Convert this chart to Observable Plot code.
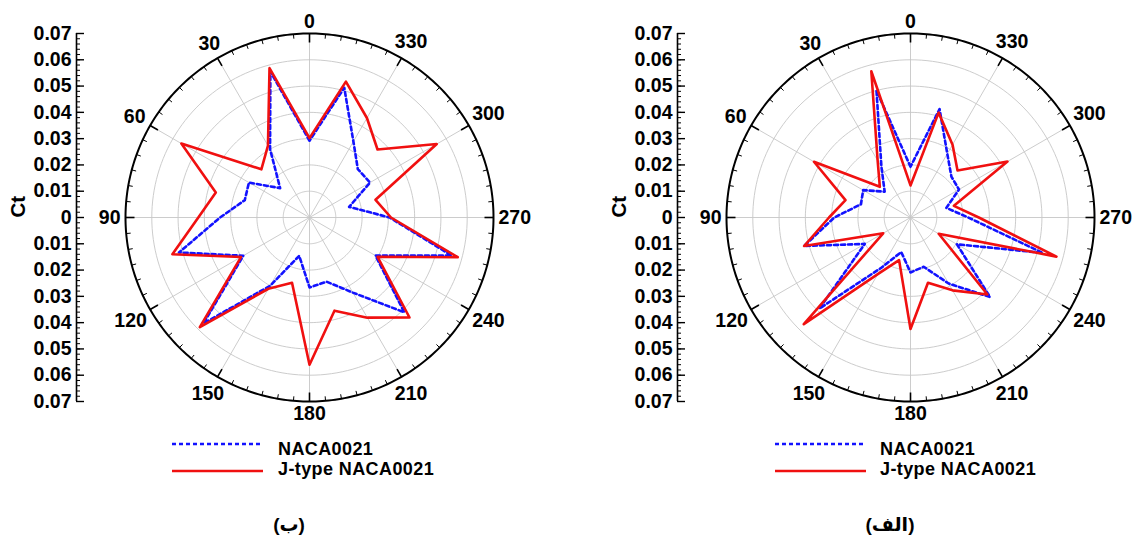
<!DOCTYPE html>
<html>
<head>
<meta charset="utf-8">
<script src="https://cdn.jsdelivr.net/npm/d3@7"></script>
<script src="https://cdn.jsdelivr.net/npm/@observablehq/plot@0.6"></script>
<style>
  body { margin: 0; background: #fff; }
  #root { position: relative; width: 1134px; height: 536px; overflow: hidden;
          font-family: 'Liberation Sans', Arial, 'DejaVu Sans', sans-serif; font-weight: bold; color: #000; }
  .panel { position: absolute; top: 0; }
  .legend-text { position: absolute; font-size: 18px; line-height: 16px; white-space: nowrap; letter-spacing: 0.4px; }
  .legend-line { position: absolute; }
  .caption { position: absolute; font-size: 19px; line-height: 22px; white-space: nowrap; transform: translateX(-50%); }
</style>
</head>
<body>
<div id="root"></div>
<script>
// ---------------- data ----------------
const angles = [0, 15, 30, 45, 60, 75, 90, 105, 120, 135, 150, 165,
                180, 195, 210, 225, 240, 255, 270, 285, 300, 315, 330, 345];
const angleTicks = [0, 30, 60, 90, 120, 150, 180, 210, 240, 270, 300, 330];
const ctTicks = [-0.07, -0.06, -0.05, -0.04, -0.03, -0.02, -0.01, 0, 0.01, 0.02, 0.03, 0.04, 0.05, 0.06, 0.07];
const ringValues = [0.01, 0.02, 0.03, 0.04, 0.05, 0.06];
const seriesNames = ["NACA0021", "J-type NACA0021"];
const panelCaptions = ["(ب)", "(الف)"];

// panel (ب)
const nacaB  = [0.0292, 0.0575, 0.0300, 0.0158, 0.0266, 0.0255, 0.0340, 0.0514,
                0.0291, 0.0570, 0.0300, 0.0151, 0.0266, 0.0253, 0.0330, 0.0510,
                0.0290, 0.0560, 0.0305, 0.0156, 0.0266, 0.0260, 0.0334, 0.0511];
const jtypeB = [0.0302, 0.0588, 0.0316, 0.0259, 0.0563, 0.0369, 0.0423, 0.0540,
                0.0301, 0.0590, 0.0313, 0.0257, 0.0560, 0.0367, 0.0440, 0.0538,
                0.0299, 0.0584, 0.0310, 0.0260, 0.0559, 0.0366, 0.0437, 0.0535];
// panel (الف)
const nacaA  = [0.0193, 0.0500, 0.0221, 0.0139, 0.0208, 0.0195, 0.0290, 0.0419,
                0.0201, 0.0490, 0.0220, 0.0136, 0.0209, 0.0194, 0.0290, 0.0428,
                0.0204, 0.0520, 0.0220, 0.0141, 0.0213, 0.0220, 0.0280, 0.0427];
const jtypeA = [0.0122, 0.0576, 0.0250, 0.0165, 0.0424, 0.0256, 0.0310, 0.0419,
                0.0120, 0.0574, 0.0249, 0.0168, 0.0424, 0.0257, 0.0320, 0.0414,
                0.0124, 0.0575, 0.0260, 0.0171, 0.0426, 0.0253, 0.0320, 0.0413];

// ---------------- layout ----------------
const W = 533, H = 430, CX = 309, AXIS_X = 76, TOP = 33, BOTTOM = 401;
const RMAX = 0.07;
const K = (BOTTOM - TOP) / (2 * RMAX);           // px per Ct unit
const XMIN = -(CX - AXIS_X) / K, XMAX = (W - CX) / K;
const FS = 19.5;
const BLUE = "#1212ff", RED = "#f01010", GRID = "#c6c6c6";

const rad = (a) => a * Math.PI / 180;
const px = (r, a) => -r * Math.sin(rad(a));
const py = (r, a) => r * Math.cos(rad(a));

function panel(naca, jtype) {
  const rows = [
    ...angles.map((a, i) => ({a, r: naca[i], s: seriesNames[0]})),
    ...angles.map((a, i) => ({a, r: jtype[i], s: seriesNames[1]}))
  ];
  const ringPts = ringValues.flatMap((r) => d3.range(0, 361, 2).map((a) => ({r, a})));
  const outerPts = d3.range(0, 361, 1).map((a) => ({r: RMAX, a}));
  const minorAng = d3.range(0, 360, 5).filter((a) => a % 30 !== 0);
  const labelR = (a) => {
    const w = String(a).length * 0.556 * FS, h = 0.716 * FS;
    const ext = Math.abs(Math.sin(rad(a))) * w / 2 + Math.abs(Math.cos(rad(a))) * h / 2;
    return RMAX + (5 + ext) / K;
  };
  const fmt = (d) => (Math.abs(d) < 1e-9 ? "0" : d3.format(".2f")(Math.abs(d)));

  return Plot.plot({
    width: W, height: H,
    marginLeft: AXIS_X, marginRight: 0, marginTop: TOP, marginBottom: H - BOTTOM,
    x: {domain: [XMIN, XMAX], axis: null},
    y: {domain: [-RMAX, RMAX]},
    style: {fontFamily: "'Liberation Sans', Arial, sans-serif", fontWeight: "bold", fontSize: FS + "px", background: "white", overflow: "visible"},
    marks: [
      // grid rings
      Plot.line(ringPts, {x: (d) => px(d.r, d.a), y: (d) => py(d.r, d.a), z: (d) => d.r, stroke: GRID, strokeWidth: 0.9}),
      // spokes
      Plot.link(angleTicks, {x1: () => 0, y1: () => 0, x2: (a) => px(RMAX, a), y2: (a) => py(RMAX, a), stroke: GRID, strokeWidth: 0.9}),
      // outer circle
      Plot.line(outerPts, {x: (d) => px(d.r, d.a), y: (d) => py(d.r, d.a), stroke: "black", strokeWidth: 2}),
      // angular ticks
      Plot.link(minorAng, {x1: (a) => px(RMAX, a), y1: (a) => py(RMAX, a), x2: (a) => px(RMAX - 4.5 / K, a), y2: (a) => py(RMAX - 4.5 / K, a), stroke: "black", strokeWidth: 1}),
      Plot.link(angleTicks, {x1: (a) => px(RMAX, a), y1: (a) => py(RMAX, a), x2: (a) => px(RMAX - 9 / K, a), y2: (a) => py(RMAX - 9 / K, a), stroke: "black", strokeWidth: 1.6}),
      // data
      Plot.line(rows.filter((d) => d.s === seriesNames[0]), {x: (d) => px(d.r, d.a), y: (d) => py(d.r, d.a), stroke: BLUE, strokeWidth: 2.6, strokeDasharray: "4,3", curve: "linear-closed"}),
      Plot.line(rows.filter((d) => d.s === seriesNames[1]), {x: (d) => px(d.r, d.a), y: (d) => py(d.r, d.a), stroke: RED, strokeWidth: 2.6, curve: "linear-closed"}),
      // angle labels
      Plot.text(angleTicks, {x: (a) => px(labelR(a), a), y: (a) => py(labelR(a), a), text: (a) => String(a), fontSize: FS, fill: "black"}),
      // Ct axis
      Plot.ruleX([XMIN], {y1: -RMAX, y2: RMAX, stroke: "black", strokeWidth: 1.6}),
      Plot.axisY(d3.range(-35, 36).map((i) => i / 500), {tickSize: -4, tickFormat: () => "", label: null, stroke: "black"}),
      Plot.axisY(ctTicks, {tickSize: -8, tickPadding: 13, tickFormat: fmt, label: null, stroke: "black", strokeWidth: 1.4, fontSize: FS}),
      Plot.text(["Ct"], {frameAnchor: "left", rotate: -90, dx: -58, fontSize: FS + 1, fill: "black"})
    ]
  });
}

const root = document.getElementById("root");
const panels = [
  {left: 0, naca: nacaB, jtype: jtypeB, caption: panelCaptions[0], legendX: 172, textX: 278, capX: 289},
  {left: 601, naca: nacaA, jtype: jtypeA, caption: panelCaptions[1], legendX: 775, textX: 880, capX: 890}
];
for (const p of panels) {
  const div = document.createElement("div");
  div.className = "panel";
  div.style.left = p.left + "px";
  div.appendChild(panel(p.naca, p.jtype));
  root.appendChild(div);

  // legend
  const mk = (y, color, dash) => {
    const s = document.createElementNS("http://www.w3.org/2000/svg", "svg");
    s.setAttribute("class", "legend-line");
    s.setAttribute("width", 92); s.setAttribute("height", 6);
    s.style.left = p.legendX + "px"; s.style.top = (y - 3) + "px";
    const l = document.createElementNS("http://www.w3.org/2000/svg", "line");
    l.setAttribute("x1", 0); l.setAttribute("x2", 91); l.setAttribute("y1", 3); l.setAttribute("y2", 3);
    l.setAttribute("stroke", color); l.setAttribute("stroke-width", 2.6);
    if (dash) l.setAttribute("stroke-dasharray", dash);
    s.appendChild(l);
    root.appendChild(s);
  };
  mk(444, BLUE, "4,3");
  mk(471, RED, null);
  const t1 = document.createElement("div");
  t1.className = "legend-text"; t1.textContent = seriesNames[0];
  t1.style.left = p.textX + "px"; t1.style.top = (448.5 - 8) + "px";
  root.appendChild(t1);
  const t2 = document.createElement("div");
  t2.className = "legend-text"; t2.textContent = seriesNames[1];
  t2.style.left = p.textX + "px"; t2.style.top = (469 - 8) + "px";
  root.appendChild(t2);

  const c = document.createElement("div");
  c.className = "caption"; c.textContent = p.caption;
  c.style.left = p.capX + "px"; c.style.top = (525 - 11) + "px";
  root.appendChild(c);
}
</script>
</body>
</html>
